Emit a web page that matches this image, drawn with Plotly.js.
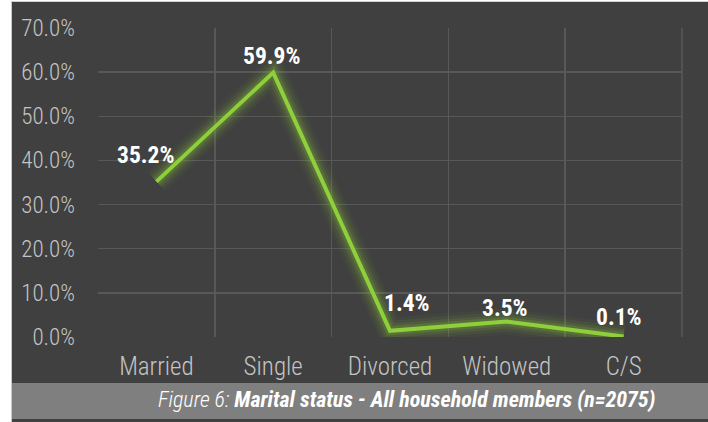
<!DOCTYPE html>
<html>
<head>
<meta charset="utf-8">
<script src="https://cdn.plot.ly/plotly-3.0.1.min.js"></script>
<style>
  html, body { margin: 0; padding: 0; background: #ffffff; width: 708px; height: 422px; overflow: hidden; }
  #frame { position: absolute; left: 11px; top: 1px; width: 697px; height: 421px; border-left: 1px solid #c8c8c8; border-top: 1px solid #d0d0d0; box-sizing: border-box; }
  #chart { position: absolute; left: 12px; top: 2px; width: 696px; height: 420px; }
</style>
</head>
<body>
<div id="frame"></div>
<div id="chart"></div>
<script>
// ---- data ----
const categories = ["Married", "Single", "Divorced", "Widowed", "C/S"];
const shares = [35.2, 59.9, 1.4, 3.5, 0.1];   // percent
const yTickValues = [0, 10, 20, 30, 40, 50, 60, 70];
const captionPrefix = "Figure 6: ";
const captionMain = "Marital status - All household members (n=2075)";

// ---- styles ----
const labelShiftX = [-11, -2, 17, -2, -5];
const labelShiftY = [27, 17, 28, 14, 20];
const lineColor = "#8ecf3c";
const FONT = "'Roboto Condensed', 'Open Sans', sans-serif";

const W = 696, H = 420;
const M = { l: 86, r: 26, t: 26, b: 85 };
const pw = W - M.l - M.r, ph = H - M.t - M.b;
const px2x = p => (p - M.l) / pw;
const px2y = p => (H - M.b - p) / ph;

const glowLayers = [
  { w: 26, a: 0.05 },
  { w: 20, a: 0.08 },
  { w: 14, a: 0.12 },
  { w: 9, a: 0.18 }
];
const traces = glowLayers.map(g => ({
  type: "scatter", mode: "lines", x: categories, y: shares,
  line: { color: `rgba(140,195,55,${g.a})`, width: g.w },
  hoverinfo: "skip", showlegend: false
}));
traces.push({
  type: "scatter", mode: "lines", x: categories, y: shares,
  line: { color: lineColor, width: 4 },
  showlegend: false
});

const annotations = categories.map((c, i) => ({
  x: c, y: shares[i], xref: "x", yref: "y",
  text: shares[i].toFixed(1) + "%",
  showarrow: false, xshift: labelShiftX[i], yshift: labelShiftY[i],
  font: { family: FONT, size: 23.5, color: "#ffffff", weight: "bold" }
}));
annotations.push({
  xref: "paper", yref: "paper", x: px2x(395), y: px2y(397),
  xanchor: "center", yanchor: "middle", showarrow: false,
  text: "<i><span style=\"font-weight:300\">" + captionPrefix + "</span><b>" + captionMain + "</b></i>",
  font: { family: FONT, size: 22, color: "#ffffff" }
});

const layout = {
  width: W, height: H,
  margin: M,
  paper_bgcolor: "#404040",
  plot_bgcolor: "#404040",
  showlegend: false,
  font: { family: FONT, color: "#c4c4c4" },
  xaxis: {
    type: "category", categoryarray: categories, range: [-0.5, 4.5],
    tickson: "boundaries", showgrid: true, gridcolor: "#585858", gridwidth: 1.5,
    zeroline: false, showline: false, ticks: "",
    tickfont: { family: FONT, size: 25, color: "#c4c4c4", weight: 300 },
    ticklabelstandoff: 12, fixedrange: true
  },
  yaxis: {
    range: [0, 70], tickvals: yTickValues,
    ticktext: yTickValues.map(v => v.toFixed(1) + "%"),
    showgrid: true, gridcolor: "#585858", gridwidth: 1.5,
    zeroline: false, showline: false, ticks: "",
    tickfont: { family: FONT, size: 23, color: "#c4c4c4", weight: 300 },
    ticklabelstandoff: 22, fixedrange: true
  },
  shapes: [
    { type: "rect", xref: "paper", yref: "paper", layer: "below",
      x0: px2x(-1), x1: px2x(W + 1), y0: px2y(417), y1: px2y(381),
      fillcolor: "#7f7f7f", line: { width: 0 } },
    { type: "line", xref: "paper", yref: "paper", layer: "below",
      x0: 1, x1: 1, y0: 0, y1: 1, line: { color: "#585858", width: 1.5 } }
  ],
  annotations: annotations
};

Plotly.newPlot("chart", traces, layout, { displayModeBar: false, staticPlot: true });
</script>
</body>
</html>
